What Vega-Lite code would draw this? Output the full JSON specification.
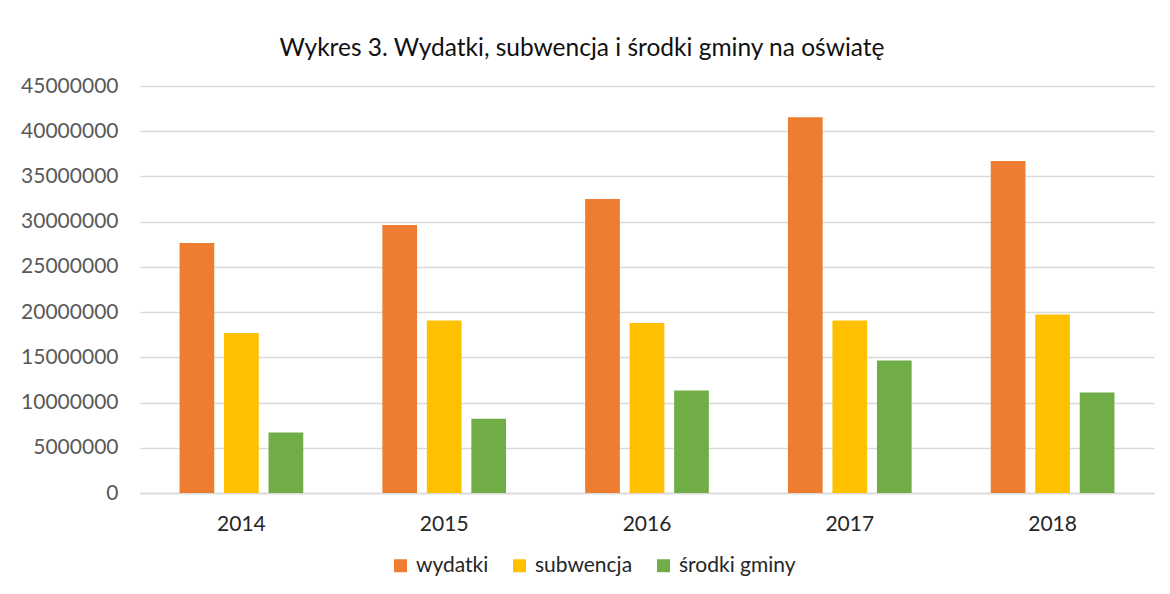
{
  "$schema": "https://vega.github.io/schema/vega-lite/v6.json",
  "autosize": {"type": "none"},
  "width": 1014,
  "height": 407,
  "padding": {"left": 140, "top": 86, "right": 16, "bottom": 101},
  "background": "white",
  "title": {
    "text": "Wykres 3. Wydatki, subwencja i środki gminy na oświatę",
    "font": "Lato",
    "fontSize": 24.5,
    "fontWeight": "normal",
    "color": "#111111",
    "anchor": "middle",
    "frame": "group",
    "dx": -65,
    "baseline": "alphabetic",
    "offset": -5
  },
  "data": {
    "values": [
      {"rok": "2014", "seria": "wydatki", "wartosc": 27640000},
      {"rok": "2014", "seria": "subwencja", "wartosc": 17690000},
      {"rok": "2014", "seria": "środki gminy", "wartosc": 6680000},
      {"rok": "2015", "seria": "wydatki", "wartosc": 29630000},
      {"rok": "2015", "seria": "subwencja", "wartosc": 19060000},
      {"rok": "2015", "seria": "środki gminy", "wartosc": 8220000},
      {"rok": "2016", "seria": "wydatki", "wartosc": 32500000},
      {"rok": "2016", "seria": "subwencja", "wartosc": 18800000},
      {"rok": "2016", "seria": "środki gminy", "wartosc": 11320000},
      {"rok": "2017", "seria": "wydatki", "wartosc": 41540000},
      {"rok": "2017", "seria": "subwencja", "wartosc": 19060000},
      {"rok": "2017", "seria": "środki gminy", "wartosc": 14640000},
      {"rok": "2018", "seria": "wydatki", "wartosc": 36710000},
      {"rok": "2018", "seria": "subwencja", "wartosc": 19730000},
      {"rok": "2018", "seria": "środki gminy", "wartosc": 11100000}
    ]
  },
  "mark": {"type": "bar"},
  "encoding": {
    "x": {
      "field": "rok",
      "type": "nominal",
      "scale": {"paddingInner": 0.39, "paddingOuter": 0.195},
      "axis": {
        "title": null,
        "labelAngle": 0,
        "ticks": false,
        "domainColor": "#D9D9D9",
        "domainWidth": 1.5,
        "labelFont": "Lato",
        "labelFontSize": 21,
        "labelColor": "#262626",
        "labelPadding": 20
      }
    },
    "xOffset": {
      "field": "seria",
      "type": "nominal",
      "sort": ["wydatki", "subwencja", "środki gminy"],
      "scale": {"paddingInner": 0.22, "paddingOuter": 0}
    },
    "y": {
      "field": "wartosc",
      "type": "quantitative",
      "scale": {"domain": [0, 45000000], "nice": false},
      "axis": {
        "title": null,
        "values": [0, 5000000, 10000000, 15000000, 20000000, 25000000, 30000000, 35000000, 40000000, 45000000],
        "format": "d",
        "domain": false,
        "ticks": false,
        "gridColor": "#D9D9D9",
        "gridWidth": 1.4,
        "labelFont": "Lato",
        "labelFontSize": 21,
        "labelColor": "#595959",
        "labelPadding": 22
      }
    },
    "color": {
      "field": "seria",
      "type": "nominal",
      "sort": ["wydatki", "subwencja", "środki gminy"],
      "scale": {
        "domain": ["wydatki", "subwencja", "środki gminy"],
        "range": ["#ED7D31", "#FFC000", "#70AD47"]
      },
      "legend": {
        "title": null,
        "orient": "none",
        "direction": "horizontal",
        "legendX": 250,
        "legendY": 469,
        "symbolType": "square",
        "symbolSize": 169,
        "symbolStrokeWidth": 0,
        "symbolOpacity": 1,
        "labelFont": "Lato",
        "labelFontSize": 21,
        "labelColor": "#262626",
        "labelOffset": 5,
        "columnPadding": 20
      }
    }
  },
  "config": {
    "view": {"stroke": null}
  }
}
